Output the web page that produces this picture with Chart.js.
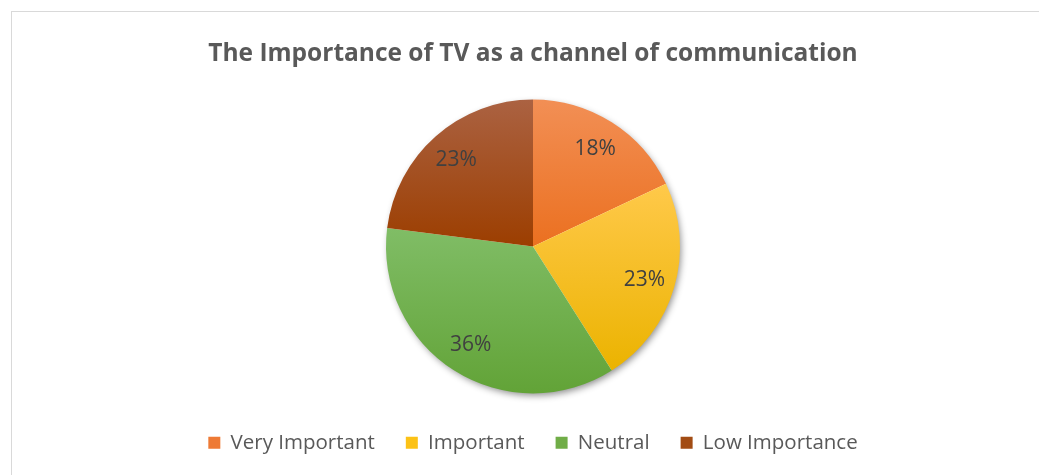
<!DOCTYPE html>
<html>
<head>
<meta charset="utf-8">
<script src="https://cdn.jsdelivr.net/npm/chart.js@4/dist/chart.umd.min.js"></script>
<style>
  html, body { margin: 0; padding: 0; background: #ffffff; overflow: hidden; }
  #wrap { position: relative; width: 1039px; height: 475px; }
  #frame {
    position: absolute; left: 11px; top: 11px; width: 1100px; height: 520px;
    border-top: 1.5px solid #d9d9d9; border-left: 1.5px solid #d9d9d9;
  }
  canvas { position: absolute; left: 0; top: 0; }
</style>
</head>
<body>
<div id="wrap">
  <div id="frame"></div>
  <canvas id="chart" width="1039" height="475"></canvas>
</div>
<script>
// Survey answers: how important TV is as a communication channel (percent)
const categories = ['Very Important', 'Important', 'Neutral', 'Low Importance'];
const shares = [18, 23, 36, 23];
const chartTitle = 'The Importance of TV as a channel of communication';

// slice shading: [top, bottom] of each vertical gradient, and a flat legend swatch
const sliceTop = ['#f28f55', '#ffc94a', '#80bd66', '#ab6242'];
const sliceBottom = ['#eb7020', '#ebb300', '#62a337', '#9c3e00'];
const swatch = ['#ee7a35', '#fcc216', '#70ad47', '#a24c14'];

const FONT = '"Open Sans", "Liberation Sans", sans-serif';
const PIE_RADIUS = 147;

// vertical extent of a slice, so each slice gets its own top-to-bottom gradient
function sliceGradient(chart, index) {
  const area = chart.chartArea;
  if (!area) return swatch[index];
  const cx = (area.left + area.right) / 2;
  const cy = (area.top + area.bottom) / 2;
  const total = shares.reduce((a, b) => a + b, 0);
  let before = 0;
  for (let i = 0; i < index; i++) before += shares[i];
  const a0 = -Math.PI / 2 + (before / total) * Math.PI * 2;
  const a1 = a0 + (shares[index] / total) * Math.PI * 2;
  const ys = [cy, cy + PIE_RADIUS * Math.sin(a0), cy + PIE_RADIUS * Math.sin(a1)];
  const inRange = (a) => {
    for (let k = -1; k <= 2; k++) {
      const t = a + k * Math.PI * 2;
      if (t >= a0 && t <= a1) return true;
    }
    return false;
  };
  if (inRange(Math.PI / 2)) ys.push(cy + PIE_RADIUS);
  if (inRange(-Math.PI / 2)) ys.push(cy - PIE_RADIUS);
  const y0 = Math.min(...ys), y1 = Math.max(...ys);
  const g = chart.ctx.createLinearGradient(0, y0, 0, y1);
  g.addColorStop(0, sliceTop[index]);
  g.addColorStop(1, sliceBottom[index]);
  return g;
}

// soft drop shadow under the whole pie
const pieShadow = {
  id: 'pieShadow',
  beforeDatasetsDraw(chart) {
    const arc = chart.getDatasetMeta(0).data[0];
    if (!arc) return;
    const { x, y, outerRadius } = arc.getProps(['x', 'y', 'outerRadius'], true);
    const ctx = chart.ctx;
    ctx.save();
    ctx.shadowColor = 'rgba(0,0,0,0.45)';
    ctx.shadowBlur = 7;
    ctx.shadowOffsetX = 2;
    ctx.shadowOffsetY = 3;
    ctx.fillStyle = '#ffffff';
    ctx.beginPath();
    ctx.arc(x, y, outerRadius - 1, 0, Math.PI * 2);
    ctx.fill();
    ctx.restore();
  }
};

// percentage labels placed inside each slice along its middle angle
const sliceLabels = {
  id: 'sliceLabels',
  afterDatasetsDraw(chart) {
    const ctx = chart.ctx;
    const meta = chart.getDatasetMeta(0);
    ctx.save();
    ctx.font = '21px ' + FONT;
    ctx.fillStyle = '#404040';
    ctx.textAlign = 'center';
    ctx.textBaseline = 'middle';
    meta.data.forEach((arc, i) => {
      const p = arc.getProps(['x', 'y', 'startAngle', 'endAngle', 'outerRadius'], true);
      const mid = (p.startAngle + p.endAngle) / 2;
      const r = p.outerRadius * 0.79;
      ctx.fillText(shares[i] + '%', p.x + Math.cos(mid) * r, p.y + Math.sin(mid) * r + 1);
    });
    ctx.restore();
  }
};

new Chart(document.getElementById('chart'), {
  type: 'pie',
  data: {
    labels: categories,
    datasets: [{
      data: shares,
      backgroundColor: (ctx) => sliceGradient(ctx.chart, ctx.dataIndex),
      borderWidth: 0,
      radius: PIE_RADIUS
    }]
  },
  plugins: [pieShadow, sliceLabels],
  options: {
    responsive: false,
    animation: false,
    layout: { padding: { left: 27, right: 0, top: 0, bottom: 12 } },
    plugins: {
      title: {
        display: true,
        text: chartTitle,
        color: '#595959',
        font: { family: FONT, size: 24.5, weight: 'bold', lineHeight: 1.2 },
        padding: { top: 39, bottom: 23 }
      },
      legend: {
        position: 'bottom',
        labels: {
          color: '#595959',
          font: { family: FONT, size: 20.5 },
          boxWidth: 12,
          boxHeight: 12,
          padding: 31,
          generateLabels(chart) {
            return categories.map((c, i) => ({
              text: c,
              fillStyle: swatch[i],
              strokeStyle: swatch[i],
              lineWidth: 0,
              fontColor: '#595959',
              index: i,
              hidden: false
            }));
          }
        }
      },
      tooltip: { enabled: false }
    }
  }
});
</script>
</body>
</html>
